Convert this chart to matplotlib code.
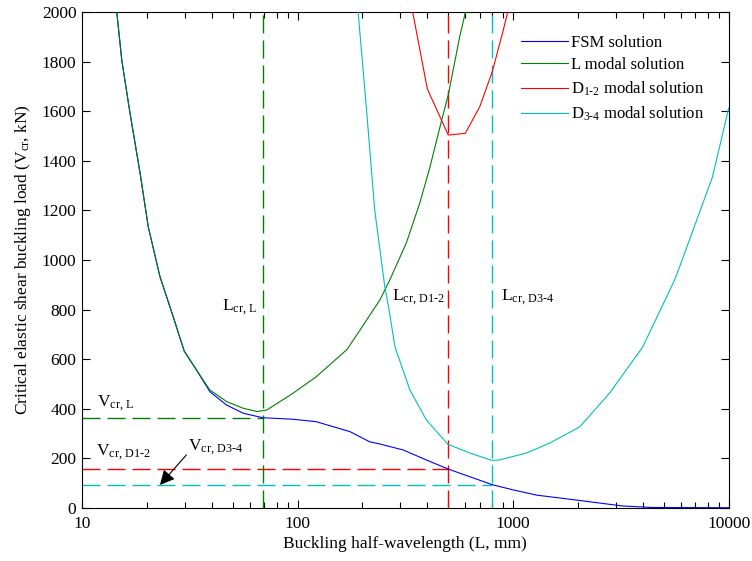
import numpy as np
import matplotlib
matplotlib.use('Agg')
import matplotlib.pyplot as plt
from matplotlib.ticker import LogLocator, NullFormatter

plt.rcParams['font.family'] = ['Liberation Serif', 'DejaVu Serif']
plt.rcParams['font.size'] = 12.5
plt.rcParams['mathtext.fontset'] = 'custom'
plt.rcParams['mathtext.rm'] = 'Liberation Serif'
plt.rcParams['mathtext.it'] = 'Liberation Serif:italic'
plt.rcParams['mathtext.bf'] = 'Liberation Serif:bold'

# FSM solution (half-wavelength mm, load kN)
fsm_L = [14, 14.5, 15.3, 16.7, 18.6, 20.3, 23.0, 26.5, 29.8, 34.0, 39.2, 46.9, 56.0, 69,
         95, 122, 175, 216, 241, 309, 400, 500, 800, 1000, 1283, 1964, 3222, 4436, 10000]
fsm_V = [2130, 2000, 1806, 1593, 1351, 1134, 933, 771, 633, 556, 469, 415, 382, 364,
         358, 348, 308, 267, 258, 234, 192, 157, 94, 73, 52, 32, 8, 2, 1]

# L modal solution
lmod_L = [14, 14.5, 15.3, 16.7, 18.6, 20.3, 23.0, 26.5, 29.8, 34.0, 39.2, 46.9, 56.0, 65,
          72, 95, 122, 170, 195, 241, 268, 320, 369, 410, 465, 500, 565, 601, 640]
lmod_V = [2130, 2000, 1806, 1593, 1351, 1134, 933, 771, 633, 556, 476, 429, 402, 389,
          395, 462, 529, 640, 718, 839, 920, 1070, 1230, 1370, 1560, 1665, 1900, 2000, 2130]

# D1-2 modal solution
d12_L = [300, 400, 500, 600, 700, 800, 900, 1000]
d12_V = [2260, 1690, 1504, 1511, 1618, 1759, 1927, 2089]

# D3-4 modal solution
d34_L = [180, 191, 209, 228, 254, 266, 283, 332, 396, 498, 629, 796, 867, 1157, 1479,
         2037, 2806, 3990, 5611, 5916, 8410, 10000]
d34_V = [2350, 2000, 1605, 1202, 892, 798, 650, 476, 355, 257, 222, 192, 194, 222, 262,
         327, 464, 649, 919, 972, 1335, 1613]

# critical values
Lcr_L, Lcr_D12, Lcr_D34 = 69, 500, 800
Vcr_L, Vcr_D12, Vcr_D34 = 363, 157, 94

blue = '#0000ff'
green = '#008000'
red = '#ff0000'
cyan = '#00bfbf'

fig = plt.figure(figsize=(7.52, 5.61), dpi=100)
ax = fig.add_axes([0.109, 0.0945, 0.860, 0.884])

dash = (13, 5)
ax.plot([10, Lcr_L], [Vcr_L, Vcr_L], color=green, lw=1, dashes=dash)
ax.plot([10, Lcr_D12], [Vcr_D12, Vcr_D12], color=red, lw=1, dashes=dash)
ax.plot([10, Lcr_D34], [Vcr_D34, Vcr_D34], color=cyan, lw=1, dashes=dash)
ax.plot([Lcr_L, Lcr_L], [0, 2000], color=green, lw=1, dashes=dash)
ax.plot([Lcr_D12, Lcr_D12], [0, 2000], color=red, lw=1, dashes=dash)
ax.plot([Lcr_D34, Lcr_D34], [0, 2000], color=cyan, lw=1, dashes=dash)

ax.plot(fsm_L, fsm_V, color=blue, lw=0.8, label='FSM solution', zorder=3)
ax.plot(lmod_L, lmod_V, color=green, lw=0.8, label='L modal solution', zorder=4)
ax.plot(d12_L, d12_V, color=red, lw=0.8, label=r'D$_\text{1-2}$ modal solution', zorder=4)
ax.plot(d34_L, d34_V, color=cyan, lw=0.8, label=r'D$_\text{3-4}$ modal solution', zorder=4)

ax.set_xscale('log')
ax.set_xlim(10, 10000)
ax.set_ylim(0, 2000)
ax.set_xticks([10, 100, 1000, 10000])
ax.set_xticklabels(['10', '100', '1000', '10000'])
ax.xaxis.set_minor_locator(LogLocator(base=10, subs=np.arange(2, 10)))
ax.xaxis.set_minor_formatter(NullFormatter())
ax.set_yticks(np.arange(0, 2001, 200))
ax.tick_params(which='both', direction='in', top=True, right=True, labelsize=12.5)
ax.tick_params(which='major', length=6, width=0.8, pad=4)
ax.tick_params(which='minor', length=4, width=0.8)
ax.tick_params(axis='x', which='major', pad=6)

ax.set_xlabel('Buckling half-wavelength (L, mm)', fontsize=12.5, labelpad=3)
ax.set_ylabel(r'Critical elastic shear buckling load (V$_\text{cr}$, kN)', fontsize=12.5, labelpad=6)

# annotations
ax.text(44.6, 798, r'L$_\text{cr, L}$', fontsize=12.5)
ax.text(273, 839, r'L$_\text{cr, D1-2}$', fontsize=12.5)
ax.text(883, 839, r'L$_\text{cr, D3-4}$', fontsize=12.5)
ax.text(11.7, 408, r'V$_\text{cr, L}$', fontsize=12.5)
ax.text(11.6, 214, r'V$_\text{cr, D1-2}$', fontsize=12.5)
ax.text(31.1, 234, r'V$_\text{cr, D3-4}$', fontsize=12.5)
ax.annotate('', xy=(23.0, 93), xytext=(30.5, 214),
            arrowprops=dict(arrowstyle='-|>', color='black', lw=0.8,
                            mutation_scale=22, shrinkA=0, shrinkB=0))

ax.legend(loc='upper left', bbox_to_anchor=(0.656, 0.985), frameon=False,
          handlelength=2.8, handletextpad=0.2, fontsize=12, labelspacing=0.4)

fig.savefig('out.png', dpi=100)
